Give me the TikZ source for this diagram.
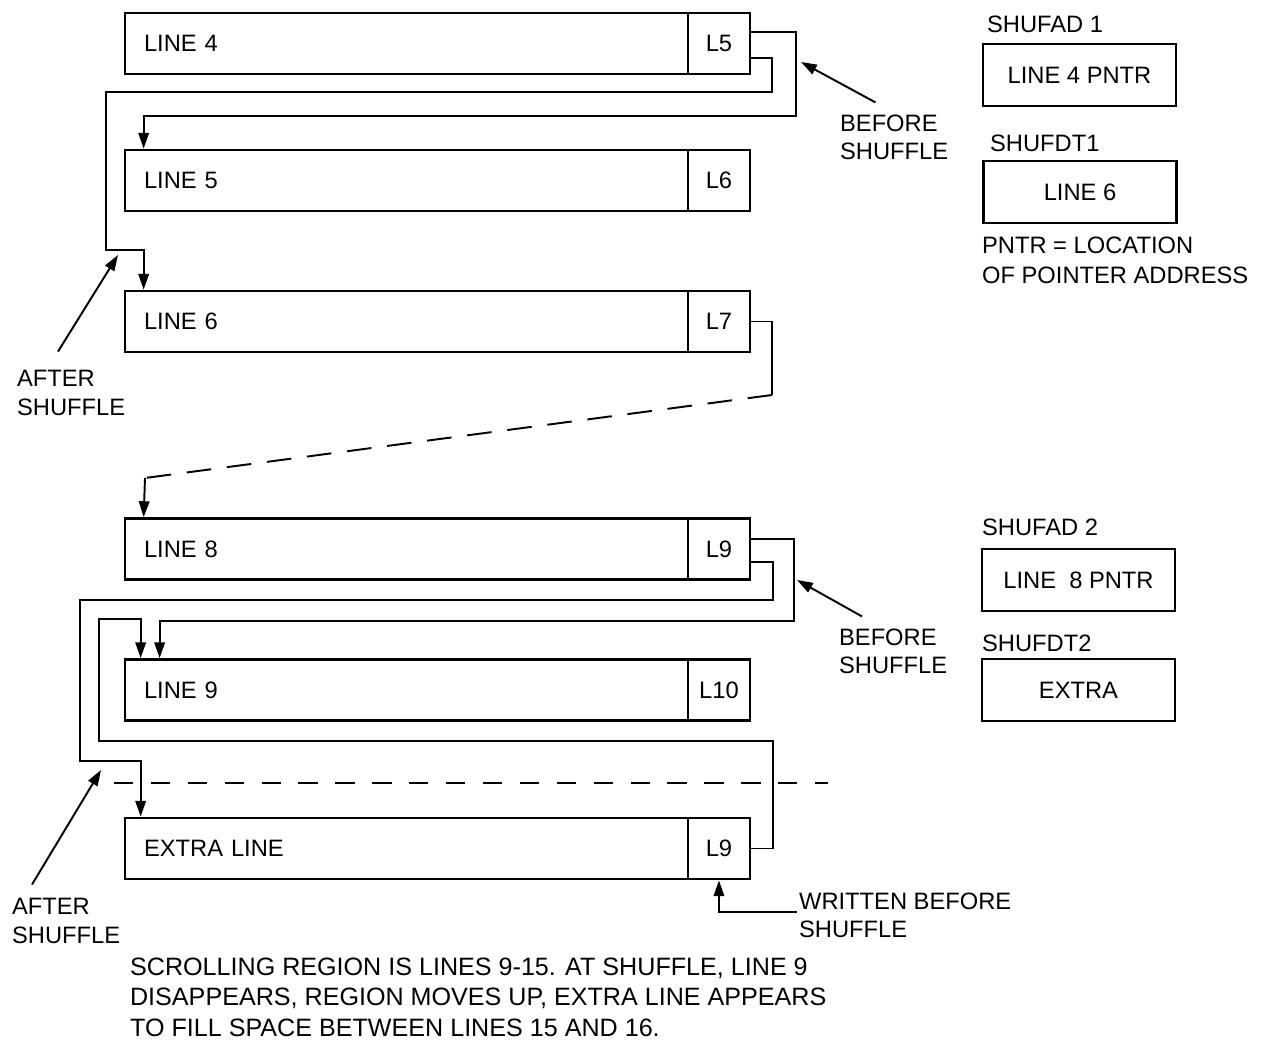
\documentclass[tikz,border=0pt]{standalone}
\usepackage{fontspec}
\setmainfont{Liberation Sans}
\usetikzlibrary{arrows.meta,positioning}

\begin{document}
\begin{tikzpicture}[x=0.02cm,y=-0.02cm,>={Triangle[length=9pt,width=6pt]},line join=miter,
  font=\fontsize{13.5}{16}\selectfont,
  linebox/.style={draw,line width=1.6pt,minimum width=11.26cm,minimum height=1.22cm,text width=10.5cm,align=left,inner xsep=0.38cm},
  cellbox/.style={draw,line width=1.6pt,minimum width=1.24cm,minimum height=1.22cm,inner sep=0pt},
  regbox/.style={draw,line width=1.6pt,minimum width=3.86cm,minimum height=1.24cm},
  wire/.style={line width=1.1pt},
  note/.style={align=left,inner sep=1pt}]
  \useasboundingbox (0,0) rectangle (1262,1041);
  \node[linebox] (ln4) at (406.5,43.5) {LINE 4};
  \node[cellbox,right=-1.6pt of ln4] (c4) {L5};
  \node[linebox] (ln5) at (406.5,180.5) {LINE 5};
  \node[cellbox,right=-1.6pt of ln5] (c5) {L6};
  \node[linebox] (ln6) at (406.5,321.5) {LINE 6};
  \node[cellbox,right=-1.6pt of ln6] (c6) {L7};
  \node[linebox] (ln8) at (406.5,549) {LINE 8};
  \node[cellbox,right=-1.6pt of ln8] (c8) {L9};
  \node[linebox] (ln9) at (406.5,690) {LINE 9};
  \node[cellbox,right=-1.6pt of ln9] (c9) {L10};
  \node[linebox] (lnx) at (406.5,848.5) {EXTRA LINE};
  \node[cellbox,right=-1.6pt of lnx] (cx) {L9};
  \draw[wire,->] ([yshift=0.23cm]c4.east) -| (796,116) -| ([xshift=0.4cm]ln5.north west);
  \draw[wire,->] ([yshift=-0.29cm]c4.east) -| (772,92) -| (106,250) -| ([xshift=0.4cm]ln6.north west);
  \draw[wire] (c6.east) -| (772,395) coordinate (k1);
  \coordinate (k2) at (145,478);
  \draw[wire,dash pattern=on 14pt off 9pt] (k1) -- (k2);
  \draw[wire,->] (k2) -- ([xshift=0.4cm]ln8.north west);
  \draw[wire,->] ([yshift=0.2cm]c8.east) -| (794,621) -| ([xshift=0.72cm]ln9.north west);
  \draw[wire,->] ([yshift=-0.26cm]c8.east) -| (773,600) -| (80,761) -| ([xshift=0.34cm]lnx.north west);
  \draw[wire,->] (cx.east) -| (773,741) -| (99,619) -| ([xshift=0.34cm]ln9.north west);
  \draw[wire,dash pattern=on 11pt off 10pt] (114,783) -- (828,783);
  \node[note,anchor=west] (bs1) at (838,137) {BEFORE\\SHUFFLE};
  \coordinate (h1) at (801,62);
  \draw[wire,->] ([xshift=0.75cm,yshift=0.2cm]bs1.north west) -- (h1);
  \node[note,anchor=west] (bs2) at (837,651) {BEFORE\\SHUFFLE};
  \coordinate (h2) at (797,580);
  \draw[wire,->] ([xshift=0.5cm,yshift=0.2cm]bs2.north west) -- (h2);
  \node[note,anchor=west] (as1) at (15,393) {AFTER\\SHUFFLE};
  \coordinate (h3) at (118,255);
  \draw[wire,->] ([xshift=0.86cm,yshift=0.34cm]as1.north west) -- (h3);
  \node[note,anchor=west] (as2) at (10,921) {AFTER\\SHUFFLE};
  \coordinate (h4) at (101,770);
  \draw[wire,->] ([xshift=0.44cm,yshift=0.24cm]as2.north west) -- (h4);
  \node[note,anchor=west] (wb) at (797,915) {WRITTEN BEFORE\\SHUFFLE};
  \draw[wire,->] ([yshift=0.06cm]wb.west) -| (cx.south);
  \node[note,anchor=west] (ad1lab) at (985,24) {SHUFAD 1};
  \node[regbox] (ad1) at (1079.5,75) {LINE 4 PNTR};
  \node[note,anchor=west] (dt1lab) at (988,143) {SHUFDT1};
  \node[regbox] (dt1) at (1080,192) {LINE 6};
  \node[note,anchor=west,font=\fontsize{13.5}{17}\selectfont] (pntr) at (980,260) {PNTR = LOCATION\\OF POINTER ADDRESS};
  \node[note,anchor=west] (ad2lab) at (980,527) {SHUFAD 2};
  \node[regbox] (ad2) at (1078.5,580) {LINE~~8 PNTR};
  \node[note,anchor=west] (dt2lab) at (980,643) {SHUFDT2};
  \node[regbox] (dt2) at (1078.5,690) {EXTRA};
  \node[note,anchor=west,font=\fontsize{14.3}{17.4}\selectfont] (scroll) at (128,997) {SCROLLING REGION IS LINES 9-15. AT SHUFFLE, LINE 9\\DISAPPEARS, REGION MOVES UP, EXTRA LINE APPEARS\\TO FILL SPACE BETWEEN LINES 15 AND 16.};
\end{tikzpicture}
\end{document}
